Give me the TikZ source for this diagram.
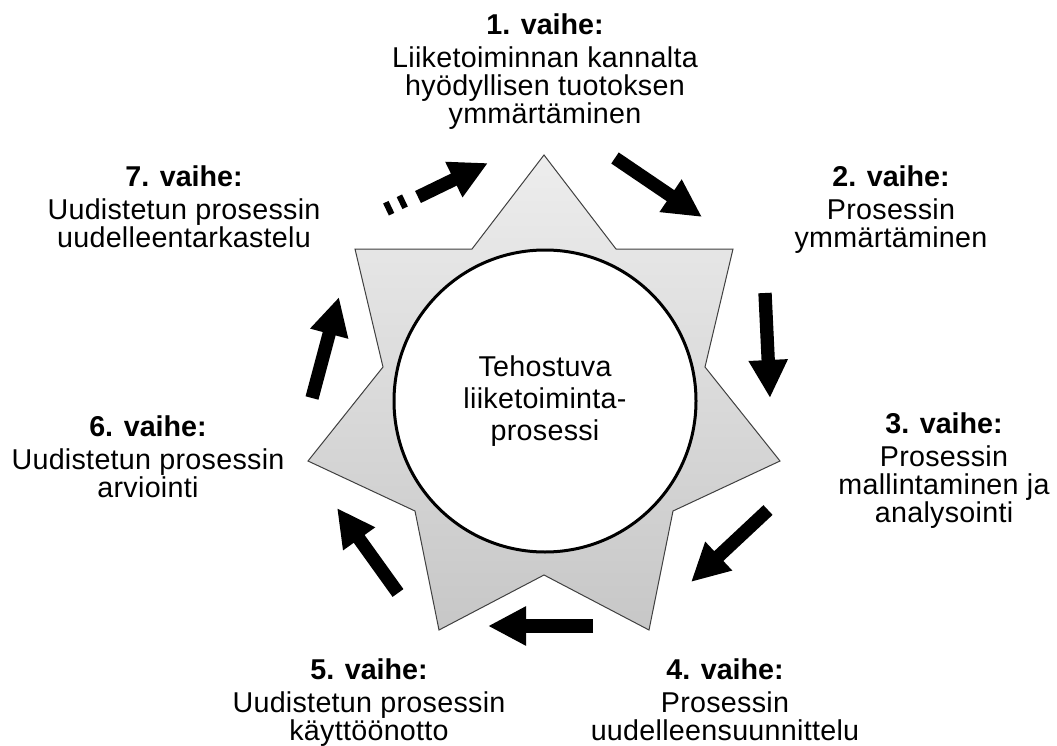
\documentclass[tikz,border=0pt]{standalone}
\usepackage{fontspec}
\setmainfont{Liberation Sans}[LetterSpace=1, BoldFeatures={LetterSpace=0}]
\usetikzlibrary{arrows.meta}

\begin{document}
\begin{tikzpicture}[
  x=0.75pt, y=-0.75pt,
  stage/.style={align=center, anchor=north, inner sep=0pt, font=\fontsize{21.5}{21}\selectfont},
  flow/.style={line width=10pt, -{Triangle[width=27.5pt, length=28.5pt]}},
  starfill/.style={draw=black!75, line width=0.75pt, top color=black!7, bottom color=black!22},
  core/.style={circle, draw, fill=white, line width=2.25pt, minimum size=226.5pt, inner sep=0pt, align=center, font=\fontsize{21.5}{24}\selectfont}
]
\useasboundingbox (0,0) rectangle (1057,746);

% Star
\draw[starfill] (544,155) -- (616,249) -- (733,249) -- (705,367) -- (780,461) -- (673,511) -- (649,630)
  -- (544,575) -- (439,630) -- (415,511) -- (308,461) -- (383,367) -- (355,249) -- (472,249) -- cycle;

% Centre
\node[core] (core) at (545,401) {Tehostuva\\liiketoiminta-\\prosessi};

% Stages
\node[stage] (st1) at (545,13) {\textbf{1. vaihe:}\\[4pt]Liiketoiminnan kannalta\\hyödyllisen tuotoksen\\ymmärtäminen};
\node[stage] (st2) at (891,165) {\textbf{2. vaihe:}\\[4pt]Prosessin\\ymmärtäminen};
\node[stage] (st3) at (944,412) {\textbf{3. vaihe:}\\[4pt]Prosessin\\mallintaminen ja\\analysointi};
\node[stage] (st4) at (725,658) {\textbf{4. vaihe:}\\[4pt]Prosessin\\uudelleensuunnittelu};
\node[stage] (st5) at (369,658) {\textbf{5. vaihe:}\\[4pt]Uudistetun prosessin\\käyttöönotto};
\node[stage] (st6) at (148,415) {\textbf{6. vaihe:}\\[4pt]Uudistetun prosessin\\arviointi};
\node[stage] (st7) at (184,165) {\textbf{7. vaihe:}\\[4pt]Uudistetun prosessin\\uudelleentarkastelu};

% Arrow ends
\coordinate (a1) at (615,158); \coordinate (b1) at (702,217);
\coordinate (a2) at (765,293); \coordinate (b2) at (770,398);
\coordinate (a3) at (768,510); \coordinate (b3) at (691,582);
\coordinate (a4) at (593,626); \coordinate (b4) at (488,626);
\coordinate (a5) at (398,593); \coordinate (b5) at (337,508);
\coordinate (a6) at (312,398); \coordinate (b6) at (339,297);
\coordinate (a7) at (418,197); \coordinate (b7) at (488,163);
\coordinate (d1) at (386,209.5); \coordinate (d2) at (407,199.5);

% Arrows
\draw[flow] (a1) -- (b1);
\draw[flow] (a2) -- (b2);
\draw[flow] (a3) -- (b3);
\draw[flow] (a4) -- (b4);
\draw[flow] (a5) -- (b5);
\draw[flow] (a6) -- (b6);
\draw[flow] (a7) -- (b7);
\draw[line width=10pt, dash pattern=on 4.5pt off 6.75pt] (d1) -- (d2);

\end{tikzpicture}
\end{document}
